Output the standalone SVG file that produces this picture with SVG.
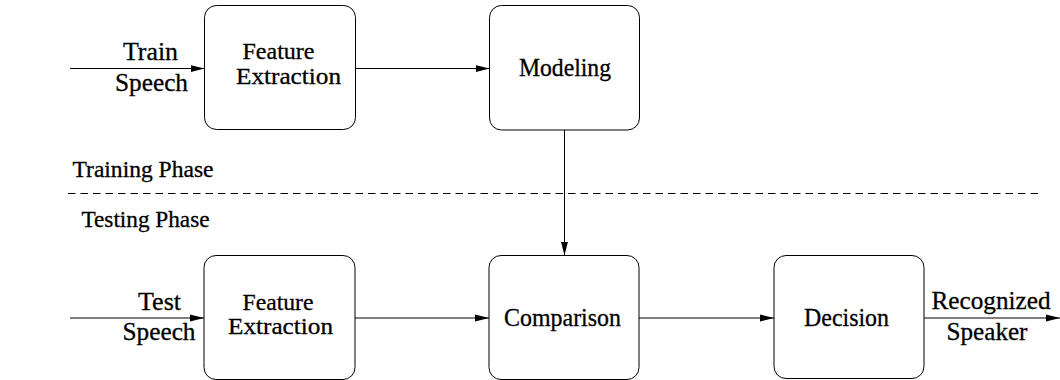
<svg xmlns="http://www.w3.org/2000/svg" width="1060" height="380" viewBox="0 0 1060 380">
<style>
.box{fill:#fff;stroke:#000;stroke-width:1}
.t{font-family:'Liberation Serif','Times New Roman',serif;font-size:25px;fill:#000;stroke:#000;stroke-width:0.3}
.b{font-family:'Liberation Serif','Times New Roman',serif;font-size:24px;fill:#000;stroke:#000;stroke-width:0.3}
.p{font-family:'Liberation Serif','Times New Roman',serif;font-size:23px;fill:#000;stroke:#000;stroke-width:0.3}
.c{stroke:#000;stroke-width:1;fill:none;marker-end:url(#ah)}
</style>
<defs>
<marker id="ah" markerUnits="userSpaceOnUse" markerWidth="14" markerHeight="8" refX="14" refY="4" orient="auto">
<path d="M0,0.5 L14,4 L0,7.5 z" fill="#000"/>
</marker>
</defs>
<rect width="1060" height="380" fill="#fff"/>
<g id="connectors">
<line class="c" x1="70" y1="68.5" x2="204.5" y2="68.5"/>
<line class="c" x1="355.5" y1="68.5" x2="489.5" y2="68.5"/>
<line class="c" x1="564.5" y1="130" x2="564.5" y2="255.5"/>
<line class="c" x1="70" y1="318" x2="204" y2="318"/>
<line class="c" x1="355" y1="318" x2="489" y2="318"/>
<line class="c" x1="639" y1="318" x2="774" y2="318"/>
<line class="c" x1="924" y1="318" x2="1060" y2="318"/>
<line id="phase-divider" x1="68" y1="193.5" x2="1038" y2="193.5" stroke="#000" stroke-width="1" stroke-dasharray="7.5 5"/>
</g>
<g id="labels">
<text class="t" x="123" y="60" textLength="55" lengthAdjust="spacingAndGlyphs">Train</text>
<text class="t" x="115" y="90.5" textLength="73" lengthAdjust="spacingAndGlyphs">Speech</text>
<text class="t" x="138" y="310" textLength="43" lengthAdjust="spacingAndGlyphs">Test</text>
<text class="t" x="122.5" y="340" textLength="73" lengthAdjust="spacingAndGlyphs">Speech</text>
<text class="t" x="931.5" y="308.5" textLength="119" lengthAdjust="spacingAndGlyphs">Recognized</text>
<text class="t" x="946.5" y="340" textLength="81" lengthAdjust="spacingAndGlyphs">Speaker</text>
<text class="p" x="72.5" y="176.7" textLength="141" lengthAdjust="spacingAndGlyphs">Training Phase</text>
<text class="p" x="81.5" y="226.7" textLength="128" lengthAdjust="spacingAndGlyphs">Testing Phase</text>
</g>
<g id="train-feature-extraction">
<rect class="box" x="204.5" y="5.5" width="151" height="124" rx="12"/>
<text class="b" x="242.5" y="59" textLength="72" lengthAdjust="spacingAndGlyphs">Feature</text>
<text class="b" x="236" y="84" textLength="105" lengthAdjust="spacingAndGlyphs">Extraction</text>
</g>
<g id="modeling">
<rect class="box" x="489.5" y="5.5" width="150" height="124.5" rx="12"/>
<text class="t" x="519" y="76" textLength="92" lengthAdjust="spacingAndGlyphs">Modeling</text>
</g>
<g id="test-feature-extraction">
<rect class="box" x="204" y="255.5" width="151" height="124" rx="12"/>
<text class="b" x="242.5" y="309.5" textLength="71" lengthAdjust="spacingAndGlyphs">Feature</text>
<text class="b" x="228" y="334" textLength="105" lengthAdjust="spacingAndGlyphs">Extraction</text>
</g>
<g id="comparison">
<rect class="box" x="489" y="255.5" width="150" height="124" rx="12"/>
<text class="t" x="504" y="326" textLength="117" lengthAdjust="spacingAndGlyphs">Comparison</text>
</g>
<g id="decision">
<rect class="box" x="774" y="255.5" width="150" height="123" rx="12"/>
<text class="t" x="804" y="325.5" textLength="85" lengthAdjust="spacingAndGlyphs">Decision</text>
</g>
</svg>
